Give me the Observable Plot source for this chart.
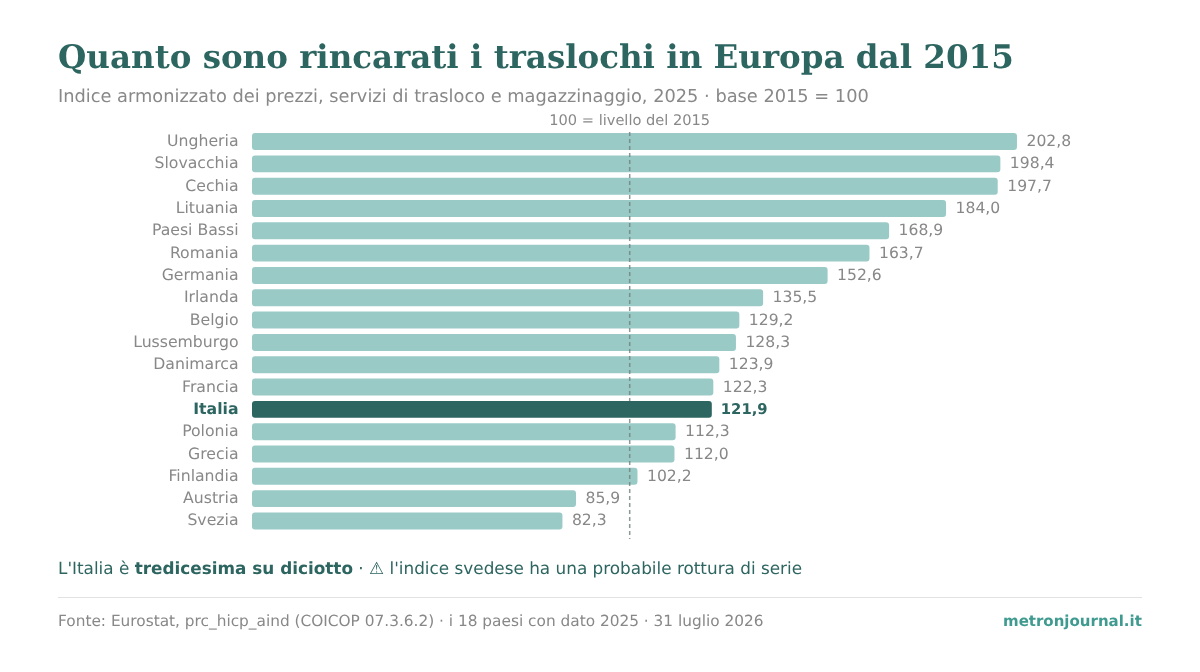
<!DOCTYPE html>
<html><head><meta charset="utf-8">
<script src="https://cdn.jsdelivr.net/npm/d3@7"></script>
<script src="https://cdn.jsdelivr.net/npm/@observablehq/plot@0.6"></script>
<style>
html,body{margin:0;padding:0;background:#fff;overflow:hidden}
body{width:1200px;height:672px;position:relative;font-family:"DejaVu Sans",sans-serif;text-rendering:geometricPrecision}
#head{height:105px;position:relative}
.abs{position:absolute;white-space:nowrap;line-height:1;will-change:transform}
#title{left:58px;top:37px;font:bold 32.5px "DejaVu Serif",serif;color:#2d6560}
#sub{left:58px;top:88px;font-size:17.8px;color:#888}
#chart{height:440px}
#chart svg{display:block;will-change:transform;text-rendering:geometricPrecision}
#note{left:58px;top:560px;font-size:16.85px;color:#2d6560}
#rule{left:58px;top:597px;width:1084px;height:1px;background:#e2e2e2}
#src{left:58px;top:614px;font-size:15.35px;color:#888}
#brand{right:58px;top:614px;font-size:15px;font-weight:bold;color:#3f9a90}
</style></head><body>
<div id="head">
<div id="title" class="abs">Quanto sono rincarati i traslochi in Europa dal 2015</div>
<div id="sub" class="abs">Indice armonizzato dei prezzi, servizi di trasloco e magazzinaggio, 2025 · base 2015 = 100</div>
</div>
<div id="chart"></div>
<div id="note" class="abs">L'Italia è <b>tredicesima su diciotto</b> · ⚠ l'indice svedese ha una probabile rottura di serie</div>
<div id="rule" class="abs"></div>
<div id="src" class="abs">Fonte: Eurostat, prc_hicp_aind (COICOP 07.3.6.2) · i 18 paesi con dato 2025 · 31 luglio 2026</div>
<div id="brand" class="abs">metronjournal.it</div>
<script>
const countries = ["Ungheria","Slovacchia","Cechia","Lituania","Paesi Bassi","Romania","Germania","Irlanda","Belgio","Lussemburgo","Danimarca","Francia","Italia","Polonia","Grecia","Finlandia","Austria","Svezia"];
const values = [202.8,198.4,197.7,184.0,168.9,163.7,152.6,135.5,129.2,128.3,123.9,122.3,121.9,112.3,112.0,102.2,85.9,82.3];
const focus = "Italia";
const baseline = [100];
const baselineLabel = "100 = livello del 2015";
const data = countries.map((c,i)=>({c,v:values[i]}));
const isF = d=>d.c===focus, notF = d=>d.c!==focus;
const fmt = v=>v.toFixed(1).replace(".",",");
const DARK="#2d6560", LIGHT="#9acac6", GREY="#888";
const plot = Plot.plot({
  width:1200,height:440,marginTop:27,marginBottom:6,marginLeft:252,marginRight:100,
  style:{fontFamily:"'DejaVu Sans',sans-serif",background:"transparent",overflow:"visible"},
  x:{axis:null,domain:[0,210],range:[252,252+210*3.772]},
  y:{axis:null,domain:countries,range:[22.7,429.8],padding:0.24,round:false},
  marks:[
    Plot.barX(data,{filter:notF,x:"v",y:"c",fill:LIGHT,rx:3}),
    Plot.ruleX(baseline,{stroke:"#6f7f7d",strokeWidth:1.5,strokeDasharray:"4,3",strokeOpacity:.8}),
    Plot.barX(data,{filter:isF,x:"v",y:"c",fill:DARK,rx:3}),
    Plot.text(data,{filter:notF,x:0,y:"c",text:"c",textAnchor:"end",dx:-14,dy:-1,fill:GREY,fontSize:15.7}),
    Plot.text(data,{filter:isF,x:0,y:"c",text:"c",textAnchor:"end",dx:-14,dy:-1,fill:DARK,fontSize:15.7,fontWeight:"bold"}),
    Plot.text(data,{filter:notF,x:"v",y:"c",text:d=>fmt(d.v),textAnchor:"start",dx:9,dy:-1,fill:GREY,fontSize:15.6}),
    Plot.text(data,{filter:isF,x:"v",y:"c",text:d=>fmt(d.v),textAnchor:"start",dx:8.5,dy:-1,fill:DARK,fontSize:14.8,fontWeight:"bold"}),
    Plot.text(baseline,{x:d=>d,text:()=>baselineLabel,frameAnchor:"top",dy:-18,fill:GREY,fontSize:14.6})
  ]
});
document.getElementById("chart").appendChild(plot);
</script>
</body></html>
